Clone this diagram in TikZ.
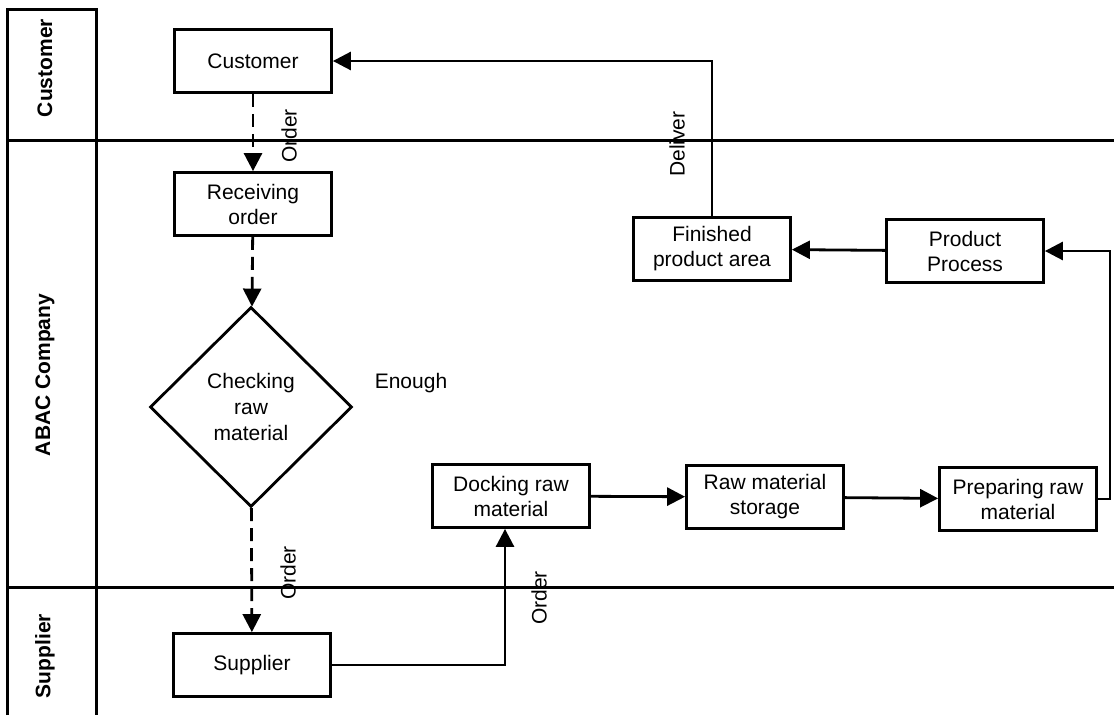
\documentclass[tikz,border=0pt]{standalone}
\usepackage{fontspec}
\setmainfont{Liberation Sans}
\usetikzlibrary{arrows.meta,shapes.geometric}
\tikzset{
  box/.style={draw,line width=2.8pt,minimum width=157pt,minimum height=63pt,
    inner sep=2pt,align=center,font=\fontsize{21}{25}\selectfont},
  decide/.style={draw,diamond,line width=2.8pt,minimum width=202pt,
    minimum height=200pt,inner sep=0pt,align=center,font=\fontsize{21}{26}\selectfont},
  flow/.style={line width=2.8pt,-{Triangle[length=18pt,width=18pt]}},
  info/.style={flow,dash pattern=on 13pt off 7pt},
  lane/.style={line width=3pt},
  lanetitle/.style={rotate=90,font=\bfseries\fontsize{21}{24}\selectfont},
  lbl/.style={inner sep=0pt,font=\fontsize{21}{24}\selectfont},
}
\begin{document}
\begin{tikzpicture}[x=1pt,y=-1pt]
    \useasboundingbox (0,0) rectangle (1114,715);
    % swim lanes
    \draw[lane] (7,715) -- (7,9) -- (96,9) -- (96,715);
    \draw[lane] (7,140) -- (1114,140);
    \draw[lane] (7,587) -- (1114,587);
    \node[lanetitle] (lcust) at (45,68) {Customer};
    \node[lanetitle] (labac) at (45,375) {ABAC Company};
    \node[lanetitle] (lsupp) at (45,656) {Supplier};

    % process steps
    \node[box] (cust) at (253,61) {Customer};
    \node[box] (recv) at (253,204) {Receiving\\order};
    \node[decide] (check) at (251,407) {Checking\\raw\\material};
    \node[box] (supp) at (252,665) {Supplier};
    \node[box] (dock) at (511,496) {Docking raw\\material};
    \node[box] (rawst) at (765,497) {Raw material\\storage};
    \node[box] (prep) at (1018,499) {Preparing raw\\material};
    \node[box] (proc) at (965,251) {Product\\Process};
    \node[box] (fin) at (712,249) {Finished\\product area};

    % information flow
    \draw[info] (cust) -- (recv);
    \draw[info] (recv) -- (check);
    \draw[info] (check) -- (supp);

    % material flow
    \draw[flow] (supp.east) -| ([xshift=-6pt]dock.south);
    \draw[flow] (dock) -- (rawst);
    \draw[flow] (rawst) -- (prep);
    \draw[flow] (prep.east) -- ++(12,0) |- (proc.east);
    \draw[flow] (proc) -- (fin);
    \draw[flow] (fin.north) |- (cust.east);

    % labels
    \node[lbl,rotate=90] (ord1) at (289,136) {Order};
    \node[lbl,rotate=90] (ord2) at (288,573) {Order};
    \node[lbl,rotate=90] (ord3) at (539,598) {Order};
    \node[lbl,rotate=90] (dlv) at (677,144) {Deliver};
    \node[lbl] (enough) at (411,383) {Enough};
\end{tikzpicture}
\end{document}
